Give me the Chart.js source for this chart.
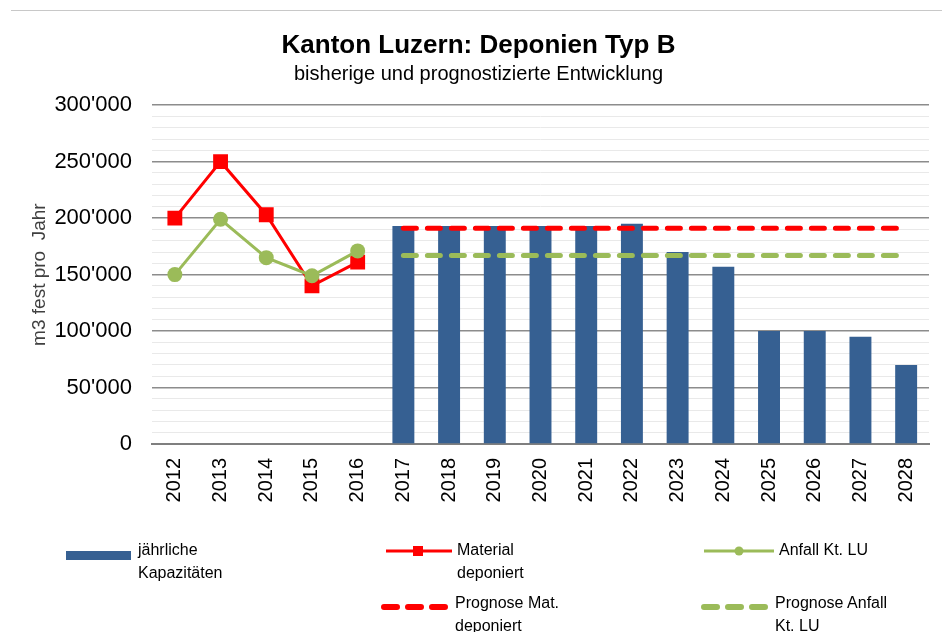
<!DOCTYPE html>
<html lang="de">
<head>
<meta charset="utf-8">
<title>Kanton Luzern: Deponien Typ B</title>
<script src="https://cdn.jsdelivr.net/npm/chart.js@4.4.1/dist/chart.umd.min.js"></script>
<style>
  html, body { margin: 0; padding: 0; background: #fff; }
  body { width: 942px; height: 632px; position: relative; overflow: hidden;
         font-family: "Liberation Sans", Arial, sans-serif; }
  #topline { position: absolute; left: 11px; right: 0; top: 10px; height: 0;
             border-top: 1px solid #c8c8c8; }
  #wrap { position: absolute; left: 0; top: 0; width: 942px; height: 632px; }
  .leg { position: absolute; font-size: 16px; line-height: 23px; color: #000; }
  .sym { position: absolute; }
</style>
</head>
<body>
<div id="topline"></div>
<div id="wrap"><canvas id="chart" width="942" height="632"></canvas></div>
<div id="legend"></div>

<script>
// Jahre
const jahre = ['2012', '2013', '2014', '2015', '2016', '2017', '2018', '2019', '2020',
               '2021', '2022', '2023', '2024', '2025', '2026', '2027', '2028'];

// jährliche Kapazitäten (Balken)
const kapazitaeten = [null, null, null, null, null,
  193000, 193000, 193000, 193000, 193000, 195000, 170000, 157000, 100000, 100000, 95000, 70000];

// Material deponiert
const materialDeponiert = [200000, 250000, 203000, 140000, 161000,
  null, null, null, null, null, null, null, null, null, null, null, null];

// Anfall Kt. LU
const anfallLU = [150000, 199000, 165000, 149000, 171000,
  null, null, null, null, null, null, null, null, null, null, null, null];

// Prognosen
const prognoseMat = [null, null, null, null, null,
  191000, 191000, 191000, 191000, 191000, 191000, 191000, 191000, 191000, 191000, 191000, 191000];
const prognoseAnfall = [null, null, null, null, null,
  167000, 167000, 167000, 167000, 167000, 167000, 167000, 167000, 167000, 167000, 167000, 167000];

const BLAU = '#366092';
const ROT = '#ff0000';
const GRUEN = '#9bbb59';
const FONT = '"Liberation Sans", Arial, sans-serif';

// 300000 -> 300'000
function formatZahl(v) {
  return String(v).replace(/\B(?=(\d{3})+(?!\d))/g, "'");
}

const ctx = document.getElementById('chart').getContext('2d');
const chart = new Chart(ctx, {
  data: {
    labels: jahre,
    datasets: [
      {
        type: 'bar', label: 'jährliche Kapazitäten', data: kapazitaeten,
        backgroundColor: BLAU, borderWidth: 0,
        categoryPercentage: 0.8, barPercentage: 0.6, order: 3
      },
      {
        type: 'line', label: 'Material deponiert', data: materialDeponiert,
        borderColor: ROT, backgroundColor: ROT, borderWidth: 3,
        pointStyle: 'rect', pointRadius: 10.5, pointBorderWidth: 0,
        pointBackgroundColor: ROT, spanGaps: false, order: 1
      },
      {
        type: 'line', label: 'Anfall Kt. LU', data: anfallLU,
        borderColor: GRUEN, backgroundColor: GRUEN, borderWidth: 3,
        pointStyle: 'circle', pointRadius: 7.5, pointBorderWidth: 0,
        pointBackgroundColor: GRUEN, order: 0
      },
      {
        type: 'line', label: 'Prognose Mat. deponiert', data: prognoseMat,
        borderColor: ROT, borderWidth: 5, borderDash: [13, 11], borderCapStyle: 'round',
        pointRadius: 0, order: 2
      },
      {
        type: 'line', label: 'Prognose Anfall Kt. LU', data: prognoseAnfall,
        borderColor: GRUEN, borderWidth: 5, borderDash: [13, 11], borderCapStyle: 'round',
        pointRadius: 0, order: 2
      }
    ]
  },
  options: {
    responsive: false,
    animation: false,
    layout: { padding: { left: 28, right: 13, top: 0, bottom: 0 } },
    plugins: {
      legend: { display: false },
      tooltip: { enabled: false },
      title: {
        display: true, text: 'Kanton Luzern: Deponien Typ B', color: '#000',
        font: { family: FONT, size: 26, weight: 'bold' },
        padding: { top: 30, bottom: 1 }
      },
      subtitle: {
        display: true, text: 'bisherige und prognostizierte Entwicklung', color: '#000',
        font: { family: FONT, size: 20 },
        padding: { top: 0, bottom: 19 }
      }
    },
    scales: {
      x: {
        grid: { display: false },
        border: { display: true, color: '#7f7f7f', width: 2 },
        ticks: {
          color: '#000', font: { family: FONT, size: 20 },
          maxRotation: 90, minRotation: 90, padding: 6
        },
        afterFit: s => { s.height = 632 - 444; }
      },
      y: {
        min: 0, max: 300000,
        ticks: {
          stepSize: 10000, color: '#000', font: { family: FONT, size: 22 }, padding: 20,
          autoSkip: false,
          callback: v => (v % 50000 === 0 ? formatZahl(v) : '')
        },
        grid: {
          drawTicks: false,
          color: c => (c.tick.value % 50000 === 0 ? '#8c8c8c' : '#e9e9e9'),
          lineWidth: c => (c.tick.value % 50000 === 0 ? 1.5 : 1)
        },
        border: { display: false },
        title: {
          display: true, text: 'm3 fest pro  Jahr', color: '#404040',
          font: { family: FONT, size: 19 }, padding: 0
        },
        afterFit: s => { s.width = 152 - 28; }
      }
    }
  }
});

// Legende als HTML, Beschriftungen aus den Datensätzen
const ds = chart.data.datasets;
const legendItems = [
  { i: 0, sym: '<rect x="0" y="0" width="65" height="9" fill="' + BLAU + '"/>', sx: 66, sy: 546, w: 65, h: 9,
    tx: 138, ty: 538, text: 'jährliche<br>Kapazitäten' },
  { i: 1, sym: '<line x1="0" y1="6" x2="66" y2="6" stroke="' + ROT + '" stroke-width="3"/><rect x="27" y="1" width="10" height="10" fill="' + ROT + '"/>',
    sx: 386, sy: 543, w: 66, h: 12, tx: 457, ty: 538, text: 'Material<br>deponiert' },
  { i: 2, sym: '<line x1="0" y1="6" x2="70" y2="6" stroke="' + GRUEN + '" stroke-width="3"/><circle cx="35" cy="6" r="4.5" fill="' + GRUEN + '"/>',
    sx: 704, sy: 543, w: 70, h: 12, tx: 779, ty: 538, text: 'Anfall Kt. LU' },
  { i: 3, sym: '<line x1="3" y1="5" x2="64" y2="5" stroke="' + ROT + '" stroke-width="6" stroke-linecap="round" stroke-dasharray="13 11"/>',
    sx: 381, sy: 598, w: 68, h: 10, tx: 455, ty: 591, text: 'Prognose Mat.<br>deponiert' },
  { i: 4, sym: '<line x1="3" y1="5" x2="64" y2="5" stroke="' + GRUEN + '" stroke-width="6" stroke-linecap="round" stroke-dasharray="13 11"/>',
    sx: 701, sy: 598, w: 68, h: 10, tx: 775, ty: 591, text: 'Prognose Anfall<br>Kt. LU' }
];
const legendEl = document.getElementById('legend');
legendItems.forEach(it => {
  const s = document.createElement('div');
  s.className = 'sym';
  s.style.left = it.sx + 'px';
  s.style.top = it.sy + 'px';
  s.innerHTML = '<svg width="' + it.w + '" height="' + it.h + '">' + it.sym + '</svg>';
  legendEl.appendChild(s);
  const t = document.createElement('div');
  t.className = 'leg';
  t.style.left = it.tx + 'px';
  t.style.top = it.ty + 'px';
  t.title = ds[it.i].label;
  t.innerHTML = it.text;
  legendEl.appendChild(t);
});
</script>
</body>
</html>
